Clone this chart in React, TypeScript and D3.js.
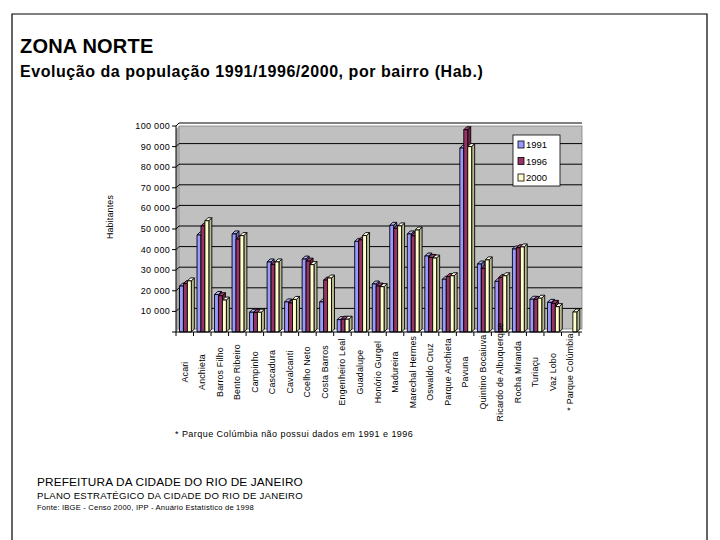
import * as d3 from "d3";
import { useEffect, useRef } from "react";

const bairros = [
  "Acari", "Anchieta", "Barros Filho", "Bento Ribeiro", "Campinho", "Cascadura",
  "Cavalcanti", "Coelho Neto", "Costa Barros", "Engenheiro Leal", "Guadalupe",
  "Honório Gurgel", "Madureira", "Marechal Hermes", "Oswaldo Cruz", "Parque Anchieta",
  "Pavuna", "Quintino Bocaiuva", "Ricardo de Albuquerque", "Rocha Miranda", "Turiaçu",
  "Vaz Lobo", "* Parque Colúmbia",
];
const pop1991 = [22300, 47100, 18200, 47600, 9600, 34000, 14600, 35400, 14600, 6000, 44000, 23300, 51800, 47600, 36900, 25600, 89300, 33000, 24600, 40300, 15900, 14400, 0];
const pop1996 = [23500, 51500, 17600, 45100, 9500, 32800, 14100, 34400, 25200, 6200, 44700, 22300, 50300, 46700, 36200, 26900, 98200, 30900, 26500, 40900, 15800, 13900, 0];
const pop2000 = [24800, 54000, 15500, 46800, 9600, 34000, 15800, 32700, 26200, 6200, 46800, 22000, 51500, 49500, 35900, 27300, 90000, 35000, 27300, 41300, 16400, 12300, 9700];
const anos = ["1991", "1996", "2000"];
const cores = ["#9999FF", "#993366", "#FFFFCC"];
const yTicks = [10000, 20000, 30000, 40000, 50000, 60000, 70000, 80000, 90000, 100000];

const FONT = "Liberation Sans, Arial, sans-serif";

export default function App() {
  const ref = useRef<SVGSVGElement | null>(null);
  useEffect(() => {
    if (!ref.current) return;
    const svg = d3.select(ref.current);
    svg.selectAll("*").remove();

    // page frame
    svg.append("path").attr("d", "M12,540 V14 H707 V540").attr("fill", "none").attr("stroke", "#000").attr("stroke-width", 1.2);

    svg.append("text").attr("x", 20).attr("y", 53).attr("font-family", FONT).attr("font-weight", "bold").attr("font-size", 20).attr("letter-spacing", 0.2).text("ZONA NORTE");
    svg.append("text").attr("x", 20).attr("y", 77).attr("font-family", FONT).attr("font-size", 16).attr("font-weight", "bold").attr("letter-spacing", 0.55).text("Evolução da população 1991/1996/2000, por bairro (Hab.)");

    const left = 176, right = 582, top = 126, bottom = 332, depth = 3;
    const y = d3.scaleLinear().domain([0, 100000]).range([bottom, top]);
    const x0 = d3.scaleBand<string>().domain(bairros).range([left, right - depth]);
    const x1 = d3.scaleBand<string>().domain(anos).range([3.5, x0.bandwidth() - 2.2]);

    // back wall
    svg.append("rect").attr("x", left + depth).attr("y", top).attr("width", right - left - depth).attr("height", bottom - top - depth).attr("fill", "#C0C0C0").attr("stroke", "#808080").attr("stroke-width", 0.8);
    // left side wall edge
    svg.append("path").attr("d", `M${left},${top + depth} L${left + depth},${top} L${left + depth},${bottom - depth} L${left},${bottom}Z`).attr("fill", "#A8A8A8");

    // gridlines
    yTicks.forEach((t) => {
      svg.append("path").attr("d", `M${left},${y(t)} L${left + depth},${y(t) - depth} H${right}`).attr("fill", "none").attr("stroke", "#000").attr("stroke-width", 1);
    });

    // y axis
    svg.append("line").attr("x1", left).attr("x2", left).attr("y1", top).attr("y2", bottom).attr("stroke", "#000");
    [0, ...yTicks].forEach((t) => {
      svg.append("line").attr("x1", left - 4).attr("x2", left).attr("y1", y(t)).attr("y2", y(t)).attr("stroke", "#000");
    });
    yTicks.forEach((t) => {
      svg.append("text").attr("x", left - 6).attr("y", y(t) + 3).attr("text-anchor", "end").attr("font-family", FONT).attr("font-size", 9).attr("letter-spacing", 0.3)
        .text(d3.format(",")(t).replace(",", " "));
    });
    svg.append("text").attr("transform", `translate(113,217) rotate(-90)`).attr("text-anchor", "middle").attr("font-family", FONT).attr("font-size", 8.8).attr("letter-spacing", 0.2).text("Habitantes");

    // bars
    const series = [pop1991, pop1996, pop2000];
    bairros.forEach((b, i) => {
      series.forEach((vals, s) => {
        const v = vals[i];
        if (!v) return;
        const bx = (x0(b) ?? 0) + (x1(anos[s]) ?? 0);
        const w = x1.bandwidth();
        const yt = y(v);
        const base = d3.color(cores[s])!;
        const g = svg.append("g").attr("stroke", "#000").attr("stroke-width", 0.9).attr("stroke-linejoin", "round");
        g.append("path").attr("d", `M${bx + w},${yt} L${bx + w + depth},${yt - depth} V${bottom - depth} L${bx + w},${bottom}Z`).attr("fill", base.darker(0.9).formatHex());
        g.append("path").attr("d", `M${bx},${yt} L${bx + depth},${yt - depth} H${bx + w + depth} L${bx + w},${yt}Z`).attr("fill", base.brighter(0.4).formatHex());
        g.append("rect").attr("x", bx).attr("y", yt).attr("width", w).attr("height", bottom - yt).attr("fill", cores[s]);
      });
    });

    // x axis
    svg.append("line").attr("x1", left).attr("x2", right).attr("y1", bottom).attr("y2", bottom).attr("stroke", "#000");
    [...bairros.map((b) => x0(b) ?? 0), right - depth].forEach((px) => {
      svg.append("line").attr("x1", px).attr("x2", px).attr("y1", bottom).attr("y2", bottom + 4).attr("stroke", "#000");
    });
    bairros.forEach((b) => {
      const cx = (x0(b) ?? 0) + x0.bandwidth() / 2 + 3;
      svg.append("text").attr("transform", `translate(${cx},372) rotate(-90)`).attr("text-anchor", "middle").attr("font-family", FONT).attr("font-size", 8.8).attr("letter-spacing", 0.2).text(b);
    });

    // legend
    const lg = svg.append("g").attr("transform", "translate(513,135)");
    lg.append("rect").attr("width", 47).attr("height", 51).attr("fill", "#fff").attr("stroke", "#000").attr("stroke-width", 0.8);
    anos.forEach((a, k) => {
      lg.append("rect").attr("x", 5).attr("y", 6 + k * 16.5).attr("width", 6).attr("height", 7).attr("fill", cores[k]).attr("stroke", "#000").attr("stroke-width", 0.8);
      lg.append("text").attr("x", 13).attr("y", 13 + k * 16.5).attr("font-family", FONT).attr("font-size", 9.5).text(a);
    });

    svg.append("text").attr("x", 175).attr("y", 437).attr("font-family", FONT).attr("font-size", 9).attr("letter-spacing", 0.45).text("* Parque Colúmbia não possui dados em 1991 e 1996");

    svg.append("text").attr("x", 37).attr("y", 486).attr("font-family", FONT).attr("font-size", 11.8).attr("letter-spacing", 0.15).text("PREFEITURA DA CIDADE DO RIO DE JANEIRO");
    svg.append("text").attr("x", 37).attr("y", 499).attr("font-family", FONT).attr("font-size", 9.6).attr("letter-spacing", 0.25).text("PLANO ESTRATÉGICO DA CIDADE DO RIO DE JANEIRO");
    svg.append("text").attr("x", 37).attr("y", 510).attr("font-family", FONT).attr("font-size", 7.6).attr("letter-spacing", 0.2).text("Fonte: IBGE - Censo 2000, IPP - Anuário Estatístico de 1998");
  }, []);
  return (
    <svg ref={ref} width={720} height={540} viewBox="0 0 720 540"
      style={{ position: "absolute", left: 0, top: 0, background: "#fff", display: "block" }} />
  );
}
